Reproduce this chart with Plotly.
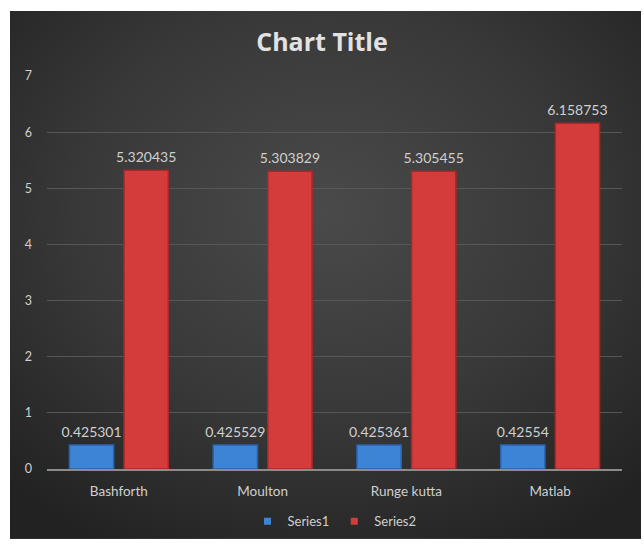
import base64
import plotly.graph_objects as go

# Data
categories = ["Bashforth", "Moulton", "Runge kutta", "Matlab"]
series1 = [0.425301, 0.425529, 0.425361, 0.42554]
series2 = [5.320435, 5.303829, 5.305455, 6.158753]
y_ticks = [0, 1, 2, 3, 4, 5, 6, 7]

FONT = "Lato, 'Open Sans', sans-serif"
TEXT = "#d0d0d0"
BLUE, BLUE_EDGE = "#3d84d6", "#2a63ad"
RED, RED_EDGE = "#d43c3c", "#a82828"

# Dark radial-gradient chart background as an inline SVG
bg_svg = """<svg xmlns='http://www.w3.org/2000/svg' width='631' height='536' preserveAspectRatio='none'>
<defs><radialGradient id='g' cx='50%' cy='38%' r='72%'>
<stop offset='0' stop-color='#4a4a4a'/>
<stop offset='0.55' stop-color='#383838'/>
<stop offset='1' stop-color='#222222'/>
</radialGradient></defs>
<rect width='631' height='536' fill='url(#g)'/></svg>"""
bg_uri = "data:image/svg+xml;base64," + base64.b64encode(bg_svg.encode()).decode()


def fmt(v):
    return f"{v:.6f}".rstrip("0").rstrip(".")


fig = go.Figure()
for name, vals, col, edge, grp in [("Series1", series1, BLUE, BLUE_EDGE, "a"),
                                   ("Series2", series2, RED, RED_EDGE, "b")]:
    # bars
    fig.add_trace(go.Bar(
        name=name, x=categories, y=vals, offsetgroup=grp,
        marker=dict(color=col, line=dict(color=edge, width=1.5)),
        showlegend=False, hoverinfo="x+y",
    ))
    # value labels above each bar (an invisible marker pads them upward)
    fig.add_trace(go.Scatter(
        x=categories, y=vals, offsetgroup=grp, mode="markers+text",
        marker=dict(size=6, color="rgba(0,0,0,0)"),
        text=[fmt(v) for v in vals], textposition="top center",
        textfont=dict(color=TEXT, size=14, family=FONT),
        showlegend=False, hoverinfo="skip", cliponaxis=False,
    ))
    # small square legend key
    fig.add_trace(go.Scatter(
        name=name, x=[None], y=[None], mode="markers",
        marker=dict(symbol="square", size=7, color=col),
    ))

W, H = 644, 548
fig.update_layout(
    width=W, height=H,
    margin=dict(l=47, r=22, t=76, b=73),
    paper_bgcolor="white",
    plot_bgcolor="rgba(0,0,0,0)",
    barmode="group", bargap=0.24, bargroupgap=0.19,
    scattermode="group", scattergap=0.24,
    title=dict(text="<b>Chart Title</b>", x=0.5, xanchor="center",
               y=1 - 42 / H, yanchor="middle",
               font=dict(family="'Open Sans', sans-serif", size=25, color="#e2e2e2")),
    font=dict(family=FONT, color=TEXT, size=12),
    showlegend=True,
    legend=dict(orientation="h", x=0.5, xanchor="center",
                y=-(528 - 475) / (475 - 76), yanchor="middle",
                font=dict(size=13, color=TEXT), itemwidth=30,
                tracegroupgap=0, bgcolor="rgba(0,0,0,0)"),
    images=[dict(source=bg_uri, xref="paper", yref="paper",
                 x=(10 - 47) / (W - 47 - 22), y=1 + (76 - 10) / (475 - 76),
                 sizex=631 / (W - 47 - 22), sizey=536 / (475 - 76),
                 xanchor="left", yanchor="top", sizing="stretch",
                 layer="below")],
)
fig.update_xaxes(showgrid=False, showline=True, linecolor="#8c8c8c", linewidth=2,
                 ticks="", tickfont=dict(size=13.5, color=TEXT), ticklabelstandoff=9)
fig.update_yaxes(range=[0, 7], tickvals=y_ticks, showgrid=True,
                 gridcolor="#575757", gridwidth=1, zeroline=False,
                 showline=False, ticks="", tickfont=dict(size=12.5, color=TEXT),
                 ticklabelstandoff=14)

fig.write_html("out.html")
